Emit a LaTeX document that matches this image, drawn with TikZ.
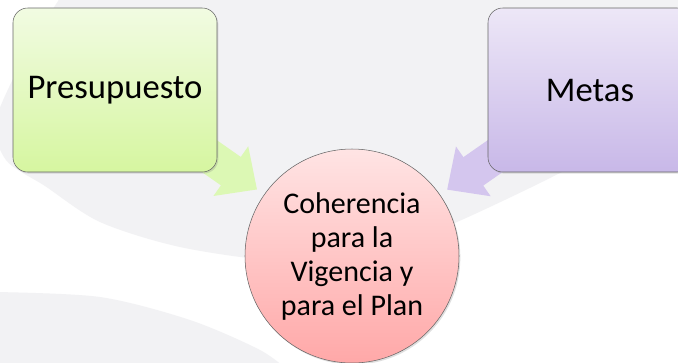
\documentclass[tikz,border=0pt]{standalone}
\usepackage{fontspec}
\setmainfont{Carlito}
\usetikzlibrary{arrows.meta,shadows}

\definecolor{swoosh}{RGB}{242,242,244}
\definecolor{greentop}{RGB}{241,251,226}
\definecolor{greenbot}{RGB}{214,246,160}
\definecolor{greenarr}{RGB}{220,248,180}
\definecolor{lilactop}{RGB}{237,231,247}
\definecolor{lilacbot}{RGB}{200,184,232}
\definecolor{lilacarr}{RGB}{212,198,238}
\definecolor{rosetop}{RGB}{255,228,228}
\definecolor{rosebot}{RGB}{255,168,168}

\tikzstyle{box}=[draw=black!60,rounded corners=11pt,minimum width=153pt,minimum height=123pt,inner sep=0pt,drop shadow={shadow xshift=1pt,shadow yshift=-1.2pt,opacity=0.25},font=\fontsize{26}{31}\selectfont]
\tikzstyle{goal}=[circle,draw=black!60,minimum size=160.5pt,inner sep=0pt,align=center,top color=rosetop,bottom color=rosebot,drop shadow={shadow xshift=1pt,shadow yshift=-1.2pt,opacity=0.25},font=\fontsize{22.5}{25.5}\selectfont]
\tikzstyle{feed}=[line width=26pt,-{Triangle[length=24pt,width=44pt]},shorten >=6.5pt]
\tikzset{>=latex}

\begin{document}
\begin{tikzpicture}[x=0.75pt,y=-0.75pt]
  \useasboundingbox (0,0) rectangle (678,362);
  \clip (0,0) rectangle (678,362);
  \fill[white] (0,0) rectangle (678,362);
  % background swooshes
  \fill[swoosh] plot[smooth] coordinates {(62,-5) (28,50) (-4,120) (6,160) (45,186) (100,222) (180,247) (280,261) (370,257) (457,222) (550,178) (620,140) (690,95)} -- (690,-5) -- cycle;
  \fill[swoosh] plot[smooth] coordinates {(-5,292) (100,297) (190,320) (260,350) (290,372)} -- (-5,372) -- cycle;

  % nodes
  \node[goal] (coh) at (352,256) {Coherencia\\para la\\Vigencia y\\para el Plan};
  \coordinate (presc) at (115,90);
  \coordinate (metasc) at (590,90);

  % arrows (behind the boxes)
  \draw[feed,greenarr] (presc) -- (coh);
  \draw[feed,lilacarr] (metasc) -- (coh);

  \node[box,top color=greentop,bottom color=greenbot] (pres) at (presc) {Presupuesto};
  \node[box,top color=lilactop,bottom color=lilacbot] (metas) at (metasc) {Metas};
\end{tikzpicture}
\end{document}
